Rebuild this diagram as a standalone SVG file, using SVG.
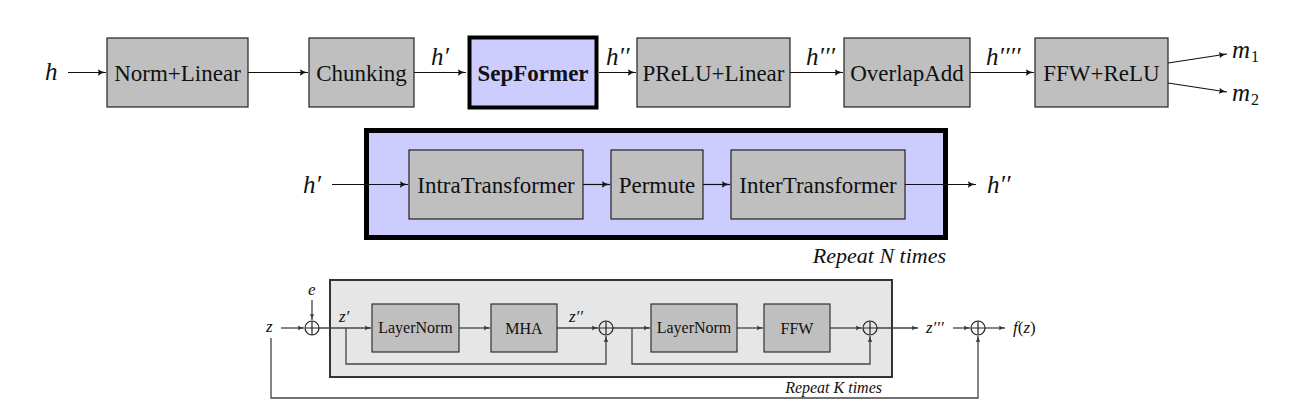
<svg xmlns="http://www.w3.org/2000/svg" width="1297" height="409" viewBox="0 0 1297 409">
<style>
  .box{fill:#bfbfbf;stroke:#222;stroke-width:1.2}
  .sbox{fill:#bfbfbf;stroke:#333;stroke-width:1.2}
  text{font-family:'Liberation Serif','DejaVu Serif',serif}
  .lbl{fill:#111;text-anchor:middle}
  .end{text-anchor:end}
  .it{font-style:italic}
  .big{font-size:23px}
  .small{font-size:16px}
  .math{font-style:italic;fill:#111}
  .ln{fill:none;stroke:#111;stroke-width:1.2}
  .sl{fill:none;stroke:#444;stroke-width:1.3}
  .circ{fill:none;stroke:#222;stroke-width:1.2}
</style>
<defs>
  <marker id="ah" markerUnits="userSpaceOnUse" markerWidth="10" markerHeight="8" refX="8" refY="4" orient="auto">
    <path d="M0,0.8 Q3,3.4 8,4 Q3,4.6 0,7.2 Q1.6,4 0,0.8 z" fill="#111"/>
  </marker>
  <marker id="ahs" markerUnits="userSpaceOnUse" markerWidth="8" markerHeight="6" refX="6" refY="3" orient="auto">
    <path d="M0,0.6 Q2.2,2.6 6,3 Q2.2,3.4 0,5.4 Q1.2,3 0,0.6 z" fill="#333"/>
  </marker>
</defs>

<!-- Top row -->
<g id="connectors-top">
  <line class="ln" x1="68" y1="72.5" x2="106" y2="72.5" marker-end="url(#ah)"/>
  <line class="ln" x1="248" y1="72.5" x2="308" y2="72.5" marker-end="url(#ah)"/>
  <line class="ln" x1="414" y1="72.5" x2="466" y2="72.5" marker-end="url(#ah)"/>
  <line class="ln" x1="599" y1="72.5" x2="636" y2="72.5" marker-end="url(#ah)"/>
  <line class="ln" x1="790" y1="72.5" x2="843" y2="72.5" marker-end="url(#ah)"/>
  <line class="ln" x1="970" y1="72.5" x2="1034" y2="72.5" marker-end="url(#ah)"/>
  <line class="ln" x1="1168" y1="63" x2="1227" y2="54" marker-end="url(#ah)"/>
  <line class="ln" x1="1168" y1="83" x2="1227" y2="92" marker-end="url(#ah)"/>
</g>
<g id="labels-top">
  <text class="math" x="45" y="80" font-size="25">h</text>
  <text class="math" x="431" y="65" font-size="25">h′</text>
  <text class="math" x="606" y="65" font-size="25">h′′</text>
  <text class="math" x="806" y="65" font-size="25">h′′′</text>
  <text class="math" x="986" y="65" font-size="25">h′′′′</text>
  <text class="math" x="1232" y="58" font-size="25">m<tspan font-style="normal" font-size="16" dy="4" dx="1">1</tspan></text>
  <text class="math" x="1232" y="101" font-size="25">m<tspan font-style="normal" font-size="16" dy="4" dx="1">2</tspan></text>
</g>
<g id="n-normlinear">
  <rect class="box" x="107" y="38" width="141" height="69"/>
  <text class="lbl big" x="177.5" y="81">Norm+Linear</text>
</g>
<g id="n-chunking">
  <rect class="box" x="309" y="38" width="105" height="69"/>
  <text class="lbl big" x="361.5" y="81">Chunking</text>
</g>
<g id="n-sepformer">
  <rect x="469.5" y="37.5" width="127" height="70" fill="#ccccff" stroke="#000" stroke-width="4"/>
  <text class="lbl big" x="533" y="81" font-weight="bold">SepFormer</text>
</g>
<g id="n-prelu">
  <rect class="box" x="637" y="38" width="153" height="69"/>
  <text class="lbl big" x="713.5" y="81">PReLU+Linear</text>
</g>
<g id="n-overlapadd">
  <rect class="box" x="844" y="38" width="126" height="69"/>
  <text class="lbl big" x="907" y="81">OverlapAdd</text>
</g>
<g id="n-ffwrelu">
  <rect class="box" x="1035" y="38" width="133" height="69"/>
  <text class="lbl big" x="1101.5" y="81">FFW+ReLU</text>
</g>

<!-- Middle: SepFormer detail -->
<g id="n-sepformer-block">
  <rect x="366.5" y="130.5" width="579" height="107" fill="#ccccff" stroke="#000" stroke-width="5"/>
  <text class="lbl end it" x="946" y="263" font-size="22">Repeat N times</text>
</g>
<g id="connectors-mid">
  <line class="ln" x1="332" y1="184.5" x2="408" y2="184.5" marker-end="url(#ah)"/>
  <line class="ln" x1="583" y1="184.5" x2="610" y2="184.5" marker-end="url(#ah)"/>
  <line class="ln" x1="703" y1="184.5" x2="730" y2="184.5" marker-end="url(#ah)"/>
  <line class="ln" x1="905" y1="184.5" x2="976" y2="184.5" marker-end="url(#ah)"/>
</g>
<g id="labels-mid">
  <text class="math" x="303" y="193" font-size="25">h′</text>
  <text class="math" x="987" y="193" font-size="25">h′′</text>
</g>
<g id="n-intra">
  <rect class="box" x="409" y="150" width="174" height="69"/>
  <text class="lbl big" x="496" y="193">IntraTransformer</text>
</g>
<g id="n-permute">
  <rect class="box" x="611" y="150" width="92" height="69"/>
  <text class="lbl big" x="657" y="193">Permute</text>
</g>
<g id="n-inter">
  <rect class="box" x="731" y="150" width="174" height="69"/>
  <text class="lbl big" x="818" y="193">InterTransformer</text>
</g>

<!-- Bottom: transformer block -->
<g id="n-transformer-block">
  <rect x="330" y="280" width="562" height="97" fill="#e6e6e6" stroke="#333" stroke-width="2"/>
  <text class="lbl small end it" x="882" y="393">Repeat K times</text>
</g>
<g id="connectors-bottom">
  <line class="sl" x1="281" y1="328" x2="304" y2="328" marker-end="url(#ahs)"/>
  <line class="sl" x1="312" y1="300" x2="312" y2="320" marker-end="url(#ahs)"/>
  <line class="sl" x1="319" y1="328" x2="371" y2="328" marker-end="url(#ahs)"/>
  <polyline class="sl" points="346,328 346,364 606,364 606,336" marker-end="url(#ahs)"/>
  <line class="sl" x1="459" y1="328" x2="490" y2="328" marker-end="url(#ahs)"/>
  <line class="sl" x1="557" y1="328" x2="598" y2="328" marker-end="url(#ahs)"/>
  <line class="sl" x1="613" y1="328" x2="650" y2="328" marker-end="url(#ahs)"/>
  <polyline class="sl" points="632,328 632,364 870,364 870,336" marker-end="url(#ahs)"/>
  <line class="sl" x1="737" y1="328" x2="763" y2="328" marker-end="url(#ahs)"/>
  <line class="sl" x1="830" y1="328" x2="862" y2="328" marker-end="url(#ahs)"/>
  <line class="sl" x1="877" y1="328" x2="918" y2="328" marker-end="url(#ahs)"/>
  <line class="sl" x1="953" y1="328" x2="970" y2="328" marker-end="url(#ahs)"/>
  <line class="sl" x1="985" y1="328" x2="1005" y2="328" marker-end="url(#ahs)"/>
  <polyline class="sl" points="271,338 271,398 978,398 978,336" marker-end="url(#ahs)"/>
</g>
<g id="n-sum1">
  <circle class="circ" cx="312" cy="328" r="7"/>
  <path class="circ" d="M305,328 H319 M312,321 V335"/>
</g>
<g id="n-sum2">
  <circle class="circ" cx="606" cy="328" r="7"/>
  <path class="circ" d="M599,328 H613 M606,321 V335"/>
</g>
<g id="n-sum3">
  <circle class="circ" cx="870" cy="328" r="7"/>
  <path class="circ" d="M863,328 H877 M870,321 V335"/>
</g>
<g id="n-sum4">
  <circle class="circ" cx="978" cy="328" r="7"/>
  <path class="circ" d="M971,328 H985 M978,321 V335"/>
</g>
<g id="n-layernorm1">
  <rect class="sbox" x="372" y="304" width="87" height="48"/>
  <text class="lbl small" x="415.5" y="333">LayerNorm</text>
</g>
<g id="n-mha">
  <rect class="sbox" x="491" y="304" width="66" height="48"/>
  <text class="lbl small" x="524" y="334">MHA</text>
</g>
<g id="n-layernorm2">
  <rect class="sbox" x="651" y="304" width="86" height="48"/>
  <text class="lbl small" x="694" y="333">LayerNorm</text>
</g>
<g id="n-ffw">
  <rect class="sbox" x="764" y="304" width="66" height="48"/>
  <text class="lbl small" x="797" y="334">FFW</text>
</g>
<g id="labels-bottom">
  <text class="math" x="266" y="332" font-size="17">z</text>
  <text class="math" x="308" y="295" font-size="17">e</text>
  <text class="math" x="339" y="322" font-size="17">z′</text>
  <text class="math" x="569" y="322" font-size="17">z′′</text>
  <text class="math" x="926" y="333" font-size="17">z′′′</text>
  <text class="math" x="1013" y="333" font-size="17">f<tspan font-style="normal">(</tspan>z<tspan font-style="normal">)</tspan></text>
</g>
</svg>
